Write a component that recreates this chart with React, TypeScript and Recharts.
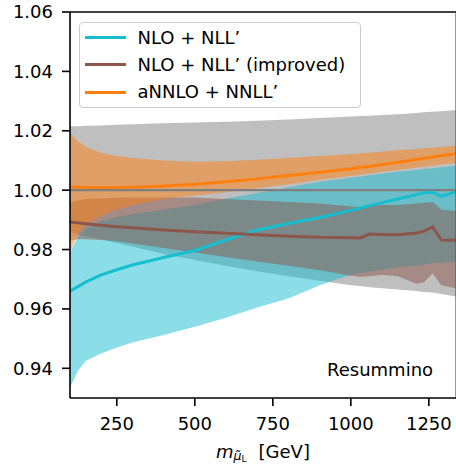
import React from "react";
import { ComposedChart, Area, Line, XAxis, YAxis, ReferenceLine, Legend } from "recharts";

const FONT = "'DejaVu Sans', sans-serif";

// slepton mass grid (GeV)
const masses = [100, 125, 150, 200, 250, 300, 400, 500, 600, 700, 800, 900, 1000, 1030, 1060, 1100, 1150, 1210, 1235, 1262, 1290, 1337];

// NLO + NLL'
const nloCentral = [0.966, 0.9675, 0.969, 0.9715, 0.9732, 0.9748, 0.9773, 0.9797, 0.9832, 0.9866, 0.9888, 0.9908, 0.9932, 0.994, 0.9948, 0.9958, 0.997, 0.9985, 0.9992, 0.9993, 0.9979, 0.9995];
const nloLow = [0.9335, 0.939, 0.9425, 0.945, 0.947, 0.9487, 0.9512, 0.954, 0.957, 0.9605, 0.9635, 0.968, 0.9715, 0.972, 0.9725, 0.9732, 0.974, 0.9745, 0.975, 0.9755, 0.9755, 0.976];
const nloHigh = [0.979, 0.9845, 0.987, 0.9895, 0.991, 0.992, 0.9935, 0.995, 0.9972, 0.999, 1.001, 1.0028, 1.0042, 1.0046, 1.005, 1.0056, 1.0062, 1.0068, 1.0071, 1.0074, 1.0077, 1.0082];

// NLO + NLL' (improved)
const improvedCentral = [0.9893, 0.989, 0.9887, 0.9882, 0.9877, 0.9873, 0.9866, 0.986, 0.9855, 0.985, 0.9845, 0.9841, 0.984, 0.9839, 0.9852, 0.9851, 0.985, 0.9856, 0.9862, 0.9876, 0.9832, 0.9831];
const improvedLow = [0.983, 0.9835, 0.9835, 0.9832, 0.9828, 0.982, 0.9805, 0.979, 0.9775, 0.976, 0.9745, 0.973, 0.9712, 0.9708, 0.971, 0.9715, 0.971, 0.9685, 0.969, 0.972, 0.968, 0.967];
const improvedHigh = [0.996, 0.9965, 0.997, 0.9972, 0.9974, 0.9975, 0.9975, 0.9975, 0.997, 0.9965, 0.996, 0.9955, 0.9945, 0.9943, 0.995, 0.995, 0.995, 0.9955, 0.9958, 0.996, 0.9935, 0.993];

// aNNLO + NNLL'
const annloCentral = [1.0011, 1.001, 1.0009, 1.0009, 1.0009, 1.001, 1.0014, 1.002, 1.0028, 1.0038, 1.0049, 1.006, 1.0072, 1.0076, 1.008, 1.0086, 1.0094, 1.0103, 1.0107, 1.0112, 1.0116, 1.0123];
const annloLow = [0.979, 0.9855, 0.9885, 0.9915, 0.9935, 0.995, 0.997, 0.9982, 0.9993, 1.0006, 1.002, 1.0035, 1.0048, 1.0052, 1.0056, 1.0062, 1.0068, 1.0076, 1.0079, 1.0082, 1.0086, 1.0092];
const annloHigh = [1.0195, 1.0165, 1.0146, 1.0125, 1.0115, 1.0108, 1.01, 1.0096, 1.0097, 1.0102, 1.0108, 1.0115, 1.0122, 1.0124, 1.0126, 1.013, 1.0134, 1.0139, 1.0141, 1.0143, 1.0146, 1.015];

// reference (normalisation) scale band
const refRatio = 1.0;
const refLow = [0.986, 0.985, 0.9845, 0.9835, 0.9822, 0.981, 0.9785, 0.9765, 0.9745, 0.9727, 0.971, 0.9695, 0.968, 0.9677, 0.9673, 0.967, 0.9665, 0.966, 0.9657, 0.9655, 0.965, 0.9642];
const refHigh = [1.0215, 1.0215, 1.0217, 1.0218, 1.022, 1.0222, 1.0225, 1.0228, 1.023, 1.0234, 1.0238, 1.0243, 1.0248, 1.025, 1.0251, 1.0253, 1.0256, 1.026, 1.0262, 1.0264, 1.0266, 1.027];

const massTicks = [250, 500, 750, 1000, 1250];
const ratioTicks = [0.94, 0.96, 0.98, 1.0, 1.02, 1.04, 1.06];

const legendItems = [
  { label: "NLO + NLL\u2019", color: "#17becf" },
  { label: "NLO + NLL\u2019 (improved)", color: "#8c564b" },
  { label: "aNNLO + NNLL\u2019", color: "#ff7f0e" },
];

const rows = masses.map((m, i) => ({
  mass: m,
  nlo: nloCentral[i],
  nloBand: [nloLow[i], nloHigh[i]],
  improved: improvedCentral[i],
  improvedBand: [improvedLow[i], improvedHigh[i]],
  annlo: annloCentral[i],
  annloBand: [annloLow[i], annloHigh[i]],
  refBand: [refLow[i], refHigh[i]],
}));

function LegendBox() {
  return (
    <div
      style={{
        boxSizing: "border-box",
        width: 282,
        height: 86,
        border: "1px solid #cccccc",
        borderRadius: 4,
        background: "rgba(255,255,255,0.8)",
        fontFamily: FONT,
        fontSize: 18,
        color: "#000",
        position: "relative",
      }}
    >
      {legendItems.map((item, i) => (
        <div
          key={item.label}
          style={{
            position: "absolute",
            left: 0,
            top: 1 + i * 27.3,
            height: 27.3,
            display: "flex",
            alignItems: "center",
            whiteSpace: "nowrap",
          }}
        >
          <span style={{ display: "inline-block", marginLeft: 5, width: 41, height: 3, background: item.color }} />
          <span style={{ marginLeft: 11.5, lineHeight: 1 }}>{item.label}</span>
        </div>
      ))}
    </div>
  );
}

// m_{\tilde\mu_L} [GeV]
function MassLabel(props: any) {
  const vb = props.viewBox || {};
  const cx = vb.x + vb.width / 2;
  return (
    <text x={cx - 47} y={457.5} fontFamily={FONT} fontSize={18} fill="#000">
      <tspan fontStyle="italic">m</tspan>
      <tspan dy={2.5} fontSize={12.6} fontStyle="italic">{"\u03bc\u0303"}</tspan>
      <tspan dy={1.5} fontSize={9}>L</tspan>
      <tspan dy={-4} dx={12}>[GeV]</tspan>
    </text>
  );
}

export default function App() {
  const axisStyle = { stroke: "#000", strokeWidth: 1.6 };
  return (
    <div style={{ position: "absolute", left: 0, top: 0, width: 456, height: 465, background: "#fff" }}>
      <ComposedChart width={456} height={465} data={rows} margin={{ top: 12, right: 0, bottom: 0, left: 0 }}>
        <XAxis
          dataKey="mass"
          type="number"
          domain={[100, 1337]}
          ticks={massTicks}
          allowDataOverflow
          height={67}
          tickSize={8}
          tickMargin={11}
          tick={{ fill: "#000", fontSize: 18, fontFamily: FONT }}
          axisLine={axisStyle}
          tickLine={axisStyle}
          label={{ content: MassLabel }}
        />
        <YAxis
          type="number"
          domain={[0.93, 1.06]}
          ticks={ratioTicks}
          allowDataOverflow
          width={70}
          tickSize={8}
          tickMargin={9}
          tickFormatter={(v: number) => v.toFixed(2)}
          tick={{ fill: "#000", fontSize: 18, fontFamily: FONT }}
          axisLine={axisStyle}
          tickLine={axisStyle}
        />
        <Area dataKey="refBand" type="linear" stroke="none" fill="#7f7f7f" fillOpacity={0.5} isAnimationActive={false} dot={false} activeDot={false} />
        <Area dataKey="nloBand" type="linear" stroke="none" fill="#17becf" fillOpacity={0.5} isAnimationActive={false} dot={false} activeDot={false} />
        <Area dataKey="improvedBand" type="linear" stroke="none" fill="#8c564b" fillOpacity={0.5} isAnimationActive={false} dot={false} activeDot={false} />
        <Area dataKey="annloBand" type="linear" stroke="none" fill="#ff7f0e" fillOpacity={0.5} isAnimationActive={false} dot={false} activeDot={false} />
        <ReferenceLine y={refRatio} stroke="#7f7f7f" strokeWidth={2.2} />
        <Line dataKey="nlo" type="linear" stroke="#17becf" strokeWidth={3} dot={false} activeDot={false} isAnimationActive={false} />
        <Line dataKey="improved" type="linear" stroke="#8c564b" strokeWidth={3} dot={false} activeDot={false} isAnimationActive={false} />
        <Line dataKey="annlo" type="linear" stroke="#ff7f0e" strokeWidth={3} dot={false} activeDot={false} isAnimationActive={false} />
        <ReferenceLine y={1.06} stroke="#000" strokeWidth={1.6} />
        <ReferenceLine x={1337} stroke="#555" strokeWidth={1.2} />
        <Legend
          layout="vertical"
          align="center"
          verticalAlign="middle"
          content={() => <LegendBox />}
          wrapperStyle={{ left: 79, top: 22, width: 282, height: 86 }}
        />
      </ComposedChart>
      <div
        style={{
          position: "absolute",
          left: 327,
          top: 360.5,
          fontFamily: FONT,
          fontSize: 18,
          lineHeight: "18px",
          color: "#000",
          whiteSpace: "nowrap",
        }}
      >
        Resummino
      </div>
    </div>
  );
}
